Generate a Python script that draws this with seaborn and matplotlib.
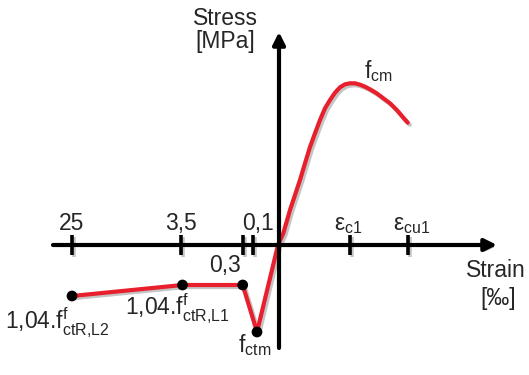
import seaborn as sns
import matplotlib.pyplot as plt
import matplotlib.patheffects as pe
import pandas as pd

# SCHEMATIC STRESS-STRAIN CURVE (arbitrary units, origin at axis crossing)
tension_strain = [-206, -95.5, -35.3, -21, 0]
tension_stress = [-51, -40, -40, -87, 0]
compression_strain = [0, 5.3, 12, 17, 22, 27, 32, 37, 42, 47, 52, 57, 62, 67, 72,
                      77, 82, 87, 92, 98.7, 105.3, 112, 118.7, 125.3, 129.7]
compression_stress = [0, 11.7, 35, 50, 65, 81.7, 98, 111.7, 125, 136.7, 145, 152.3,
                      157.7, 160.7, 161.7, 161.7, 160.3, 158.3, 155.7, 151.7, 146.7,
                      141.7, 135, 127.3, 122.3]
dot_strain = [-206, -95.5, -35.3, -21]
dot_stress = [-51, -40, -40, -87]

tick_pos = [-206, -97, -35, -25, 72, 130]
tick_labels = ['25', '3,5', '', '0,1', r'$\varepsilon_{c1}$', r'$\varepsilon_{cu1}$']

curve = pd.DataFrame({'strain': tension_strain + compression_strain[1:],
                      'stress': tension_stress + compression_stress[1:]})
dots = pd.DataFrame({'strain': dot_strain, 'stress': dot_stress})

sns.set_theme(style='white')
plt.rcParams['font.family'] = ['Liberation Sans', 'DejaVu Sans']
plt.rcParams['mathtext.fontset'] = 'custom'
plt.rcParams['mathtext.rm'] = 'Liberation Sans'
plt.rcParams['mathtext.it'] = 'Liberation Sans'
plt.rcParams['mathtext.default'] = 'regular'

RED = '#e8202e'
FS = 16.5
shadow = [pe.SimplePatchShadow(offset=(1.5, -1.5), alpha=0.25), pe.Normal()]
lshadow = [pe.SimpleLineShadow(offset=(1.5, -1.5), alpha=0.25), pe.Normal()]

fig = plt.figure(figsize=(5.29, 3.75), dpi=100)
ax = fig.add_axes([0, 0, 1, 1])
ax.set_xlim(-278, 251)
ax.set_ylim(-130, 245)
ax.axis('off')

# AXES WITH ARROWS
for start, tip in [((-225, 0), (219, 0)), ((1, -103), (1, 213))]:
    arr = ax.annotate('', xy=tip, xytext=start,
                      arrowprops=dict(arrowstyle='-|>', lw=3, color='black',
                                      mutation_scale=18, shrinkA=0, shrinkB=0))
    arr.arrow_patch.set_path_effects(shadow)

# TICK MARKS AND LABELS
ticks = ax.vlines(tick_pos, -10, 10, color='black', lw=2.6)
ticks.set_path_effects(lshadow)
label_dx = [0, 0, 0, 5, -2, 4]
for x, lab, dx in zip(tick_pos, tick_labels, label_dx):
    ax.text(x + dx, 15, lab, ha='center', va='baseline', fontsize=FS)

# CURVE AND POINTS
sns.lineplot(data=curve, x='strain', y='stress', sort=False, color=RED, lw=3,
             ax=ax, solid_capstyle='round', solid_joinstyle='round',
             path_effects=lshadow)
sns.scatterplot(data=dots, x='strain', y='stress', color='black', s=60,
                edgecolor='none', ax=ax, zorder=5)
ax.axis('off')

# ANNOTATIONS
ax.text(-53, -27, '0,3', ha='center', va='baseline', fontsize=FS)
ax.text(86, 167, r'$f_{cm}$', ha='left', va='baseline', fontsize=FS)
ax.text(-23, -107, r'$f_{ctm}$', ha='center', va='baseline', fontsize=FS)
ax.text(-153, -71, r'1,04.$f^{f}_{ctR{,}L1}$', ha='left', va='baseline', fontsize=FS)
ax.text(-273, -85, r'1,04.$f^{f}_{ctR{,}L2}$', ha='left', va='baseline', fontsize=FS)
ax.text(-53, 220, 'Stress', ha='center', va='baseline', fontsize=FS)
ax.text(-53, 197, '[MPa]', ha='center', va='baseline', fontsize=FS)
ax.text(218, -32, 'Strain', ha='center', va='baseline', fontsize=FS)
ax.text(220, -60, '[‰]', ha='center', va='baseline', fontsize=FS)

plt.savefig('out.png', dpi=100)
